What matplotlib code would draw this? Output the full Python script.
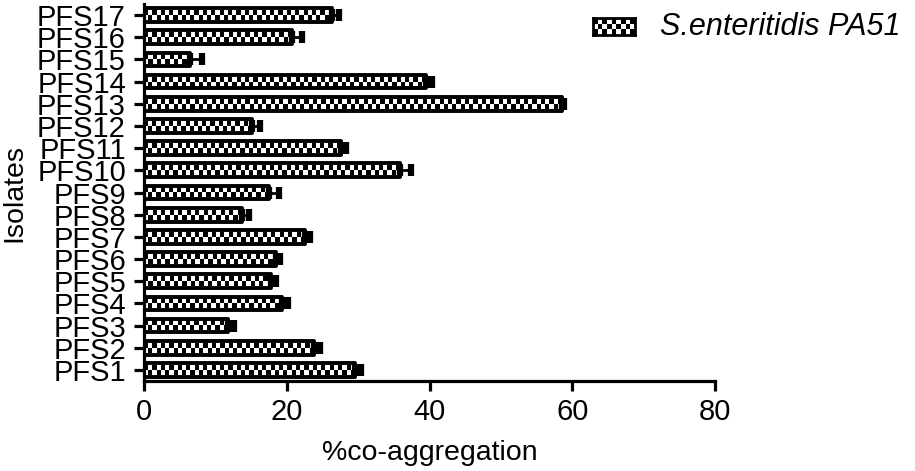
import numpy as np
import matplotlib
matplotlib.use("Agg")
import matplotlib.pyplot as plt

categories = ["PFS1", "PFS2", "PFS3", "PFS4", "PFS5", "PFS6", "PFS7", "PFS8", "PFS9",
              "PFS10", "PFS11", "PFS12", "PFS13", "PFS14", "PFS15", "PFS16", "PFS17"]
values = [29.5, 23.8, 11.7, 19.4, 17.8, 18.5, 22.5, 13.7, 17.5,
          35.8, 27.6, 15.1, 58.5, 39.5, 6.5, 20.7, 26.4]
errors = [0.9, 0.8, 0.9, 0.8, 0.7, 0.5, 0.7, 1.0, 1.4,
          1.6, 0.7, 1.1, 0.4, 0.8, 1.6, 1.5, 0.9]
series_name = "S.enteritidis PA51"
xticks = [0, 20, 40, 60, 80]

plt.rcParams['font.family'] = ['Liberation Sans', 'DejaVu Sans']

fig = plt.figure(figsize=(9.15, 4.71), dpi=100)
ax = fig.add_axes([144/915, 1-381/471, 571/915, 377/471])

pos = np.arange(1, len(categories)+1)
h = 0.62
lw = 2.8
bars = ax.barh(pos, values, height=h, facecolor='none', edgecolor='black',
               linewidth=lw, zorder=3, joinstyle='round')

# checkerboard fill clipped to each bar interior
px_per_x = 571/80.0
inner = h/2 - (lw*100/72/2)/22.2
for p, v in zip(pos, values):
    ncols = max(1, int(round(v*px_per_x/4.2)))
    img = np.indices((2, ncols)).sum(axis=0) % 2
    ax.imshow(img, cmap='gray', vmin=0, vmax=1, interpolation='nearest',
              extent=(0, v, p-inner, p+inner), aspect='auto', zorder=2)

ax.errorbar(values, pos, xerr=[np.zeros(len(errors)), errors], fmt='none',
            ecolor='black', elinewidth=2, capsize=4, capthick=4.5, zorder=4)

ax.set_xlim(0, 80)
ax.set_ylim(0.5, len(categories)+0.5)
ax.set_xticks(xticks)
ax.set_xticklabels([str(t) for t in xticks])
ax.set_yticks(pos)
ax.set_yticklabels(categories)
for s in ['top', 'right']:
    ax.spines[s].set_visible(False)
for s in ['left', 'bottom']:
    ax.spines[s].set_linewidth(2.3)
ax.tick_params(axis='x', length=7.5, width=2.3, labelsize=21, pad=5)
ax.tick_params(axis='y', length=7, width=2.3, labelsize=21, pad=6)
ax.set_xlabel("%co-aggregation", fontsize=20.5, labelpad=10)
ax.set_ylabel("Isolates", fontsize=20.5)
ax.yaxis.set_label_coords(-0.205, 0.5)

# legend swatch
lax = fig.add_axes([593/915, 1-35/471, 42/915, 17/471])
sw = np.indices((3, 9)).sum(axis=0) % 2
lax.imshow(sw, cmap='gray', vmin=0, vmax=1, interpolation='nearest', aspect='auto')
lax.set_xticks([]); lax.set_yticks([])
for s in lax.spines.values():
    s.set_linewidth(2)
fig.text(660/915, 1-27/471, series_name, fontsize=22, style='italic', va='center', ha='left')

fig.savefig("out.png", dpi=100)
